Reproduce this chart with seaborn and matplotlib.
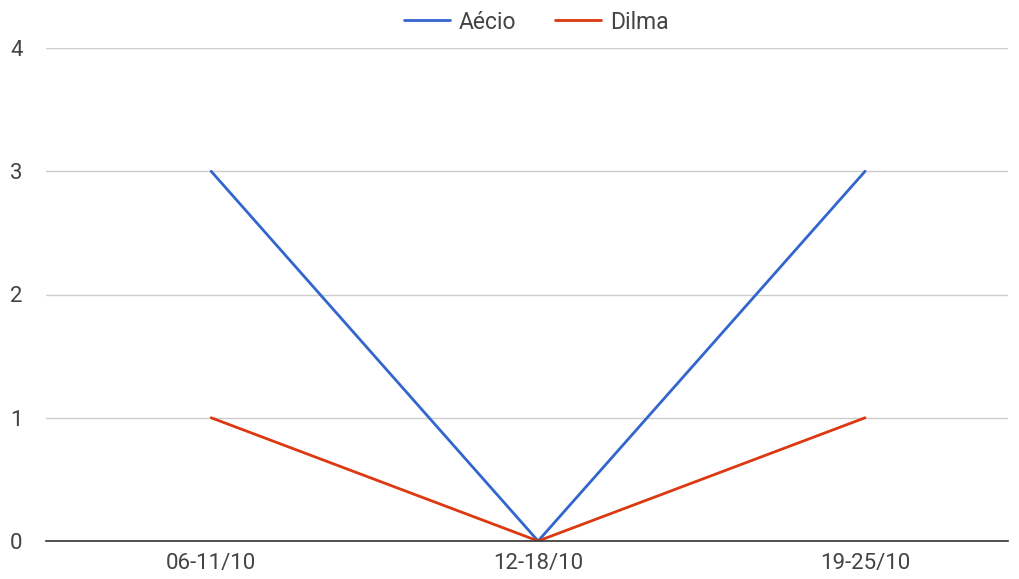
import matplotlib
matplotlib.use("Agg")
import matplotlib.pyplot as plt
import seaborn as sns
import pandas as pd
from matplotlib.lines import Line2D

categories = ["06-11/10", "12-18/10", "19-25/10"]
aecio = [3, 0, 3]
dilma = [1, 0, 1]
series_names = ["Aécio", "Dilma"]
colors = ["#3366CC", "#DC3912"]

sns.set_theme(style="white")
plt.rcParams['font.family'] = ['Roboto', 'DejaVu Sans']

df = pd.DataFrame({
    "x": list(range(len(categories))) * 2,
    "value": aecio + dilma,
    "serie": [series_names[0]] * 3 + [series_names[1]] * 3,
})

fig = plt.figure(figsize=(10.19, 5.79), dpi=100)
ax = fig.add_axes([46/1019, 38/579, (1008-46)/1019, (541-48)/579])

sns.lineplot(data=df, x="x", y="value", hue="serie", palette=colors,
             linewidth=2, ax=ax, legend=False, zorder=3)

ax.set_xlim(-0.505, 2.437)
ax.set_ylim(0, 4)
ax.set_yticks([0, 1, 2, 3, 4])
ax.set_xticks(range(len(categories)))
ax.set_xticklabels(categories)
ax.grid(axis="y", color="#CCCCCC", linewidth=1)
ax.grid(axis="x", visible=False)
for s in ["top", "right", "left"]:
    ax.spines[s].set_visible(False)
ax.spines["bottom"].set_color("#333333")
ax.spines["bottom"].set_linewidth(1.2)
ax.spines["bottom"].set_zorder(4)
ax.set_xlabel("")
ax.set_ylabel("")
ax.tick_params(axis="both", length=0, labelsize=16, colors="#444444")
ax.tick_params(axis="y", pad=17)
ax.tick_params(axis="x", pad=9)

handles = [Line2D([0], [0], color=c, linewidth=2) for c in colors]
fig.legend(handles, series_names, loc="center", bbox_to_anchor=(0.5265, 0.962),
           ncol=2, frameon=False, fontsize=16.5, handlelength=2, handletextpad=0.4,
           columnspacing=1.7, labelcolor="#444444", borderpad=0)

fig.savefig("out.png", dpi=100)
